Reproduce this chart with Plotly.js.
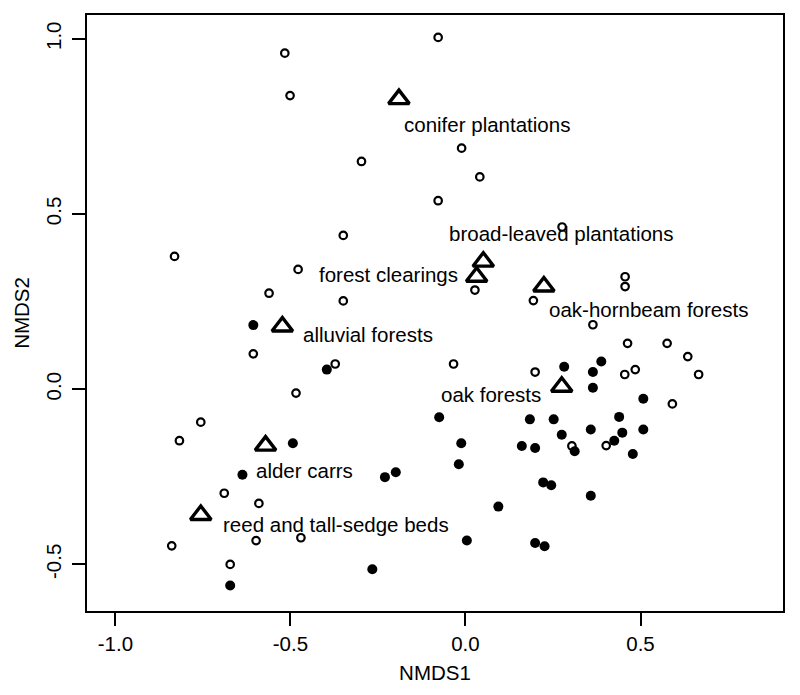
<!DOCTYPE html>
<html>
<head>
<meta charset="utf-8">
<script src="https://cdn.plot.ly/plotly-3.0.1.min.js"></script>
<style>html,body{margin:0;padding:0;background:#fff;}#chart{width:800px;height:695px;}</style>
</head>
<body>
<div id="chart"></div>
<script>
// Sites without the focus species (open circles)
const openX = [-0.516,-0.501,-0.078,-0.297,-0.078,-0.349,-0.831,-0.478,-0.561,-0.349,
  -0.011,0.041,0.276,0.027,0.194,0.456,0.456,-0.606,-0.372,-0.484,
  -0.756,-0.817,-0.689,-0.590,-0.598,-0.470,-0.839,-0.672,0.364,0.463,
  0.576,0.635,0.666,-0.034,0.199,0.455,0.485,0.591,0.304,0.402];
const openY = [0.959,0.838,1.004,0.650,0.538,0.439,0.379,0.342,0.274,0.252,
  0.688,0.606,0.463,0.283,0.253,0.321,0.293,0.101,0.072,-0.011,
  -0.094,-0.147,-0.297,-0.326,-0.432,-0.424,-0.447,-0.500,0.184,0.131,
  0.131,0.093,0.042,0.072,0.049,0.042,0.056,-0.042,-0.162,-0.161];

// Sites with the focus species (filled circles)
const filledX = [-0.606,-0.396,-0.075,-0.493,-0.637,-0.230,-0.199,-0.672,-0.266,0.282,
  0.364,0.388,0.364,0.508,0.184,0.252,0.439,0.358,0.275,0.448,
  0.508,-0.012,0.161,0.199,0.312,0.425,0.478,-0.019,0.222,0.245,
  0.358,0.094,0.004,0.199,0.226];
const filledY = [0.183,0.056,-0.080,-0.154,-0.244,-0.251,-0.237,-0.560,-0.514,0.064,
  0.049,0.079,0.004,-0.027,-0.086,-0.086,-0.079,-0.115,-0.130,-0.124,
  -0.115,-0.154,-0.162,-0.168,-0.177,-0.147,-0.185,-0.214,-0.266,-0.274,
  -0.304,-0.335,-0.432,-0.439,-0.448];

// Habitat centroids
const habitats = ["conifer plantations","broad-leaved plantations","forest clearings",
  "oak-hornbeam forests","alluvial forests","alder carrs","reed and tall-sedge beds","oak forests"];
const habX = [-0.190,0.051,0.032,0.224,-0.523,-0.571,-0.756,0.275];
const habY = [0.828,0.364,0.321,0.293,0.179,-0.161,-0.359,0.007];

// Axis ticks
const xTicks = [-1.0,-0.5,0.0,0.5];
const xTickText = ["-1.0","-0.5","0.0","0.5"];
const yTicks = [-0.5,0.0,0.5,1.0];
const yTickText = ["-0.5","0.0","0.5","1.0"];

// label placement (pixel offsets from the centroid marker)
const labelStyle = [
  {anchor:"left", dx:3, dy:-25},
  {anchor:"left", dx:-36, dy:28},
  {anchor:"right", dx:-17, dy:2},
  {anchor:"left", dx:3, dy:-23},
  {anchor:"left", dx:19, dy:-8},
  {anchor:"left", dx:-12, dy:-25},
  {anchor:"left", dx:20, dy:-9},
  {anchor:"right", dx:-19, dy:-8}
];

const FONT = "Liberation Sans, Arial, Helvetica, sans-serif";

const traces = [
  {x: openX, y: openY, type: "scatter", mode: "markers", hoverinfo: "skip",
   marker: {symbol: "circle-open", size: 7.5, color: "#000", line: {width: 2.2, color: "#000"}}},
  {x: filledX, y: filledY, type: "scatter", mode: "markers", hoverinfo: "skip",
   marker: {symbol: "circle", size: 10, color: "#000", line: {width: 0}}},
  {x: habX, y: habY, type: "scatter", mode: "markers", hoverinfo: "skip",
   marker: {symbol: "triangle-up-open", size: 18, color: "#000", line: {width: 3.4, color: "#000"}}}
];

const annotations = habitats.map((h, i) => ({
  x: habX[i], y: habY[i], xref: "x", yref: "y", text: h, showarrow: false,
  xanchor: labelStyle[i].anchor, yanchor: "middle",
  xshift: labelStyle[i].dx, yshift: labelStyle[i].dy,
  font: {family: FONT, size: 20.5, color: "#000"}
}));

const axisCommon = {
  showgrid: false, zeroline: false, showline: true, mirror: true,
  linecolor: "#000", linewidth: 2, ticks: "outside", ticklen: 13, tickwidth: 2,
  tickcolor: "#000", tickfont: {family: FONT, size: 20.5, color: "#000"}
};

const layout = {
  width: 800, height: 695,
  margin: {l: 87, r: 17, t: 15, b: 84},
  paper_bgcolor: "#fff", plot_bgcolor: "#fff",
  showlegend: false,
  font: {family: FONT, color: "#000"},
  xaxis: Object.assign({}, axisCommon, {
    range: [-1.081, 0.907], tickvals: xTicks, ticktext: xTickText,
    title: {text: "NMDS1", font: {family: FONT, size: 20.5, color: "#000"}, standoff: 12}
  }),
  yaxis: Object.assign({}, axisCommon, {
    range: [-0.633, 1.068], tickvals: yTicks, ticktext: yTickText, tickangle: -90,
    ticklabelstandoff: 3,
    title: {text: "NMDS2", font: {family: FONT, size: 20.5, color: "#000"}, standoff: 7}
  }),
  annotations: annotations
};

Plotly.newPlot("chart", traces, layout, {displayModeBar: false, staticPlot: true});
</script>
</body>
</html>
